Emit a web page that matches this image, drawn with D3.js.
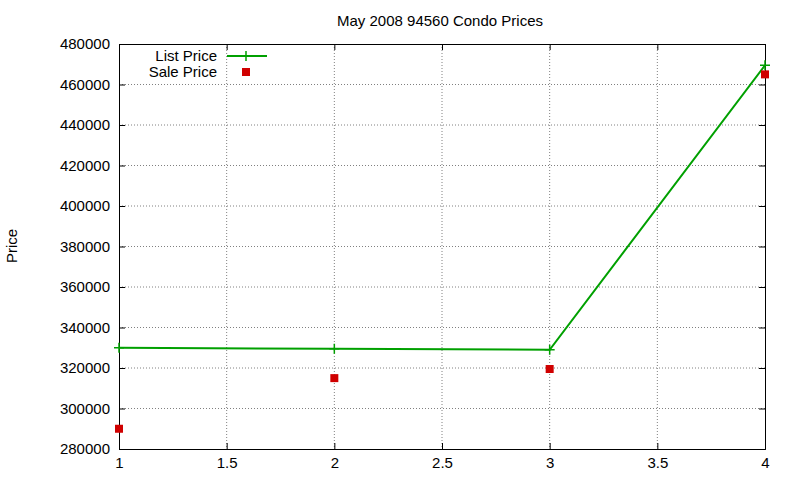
<!DOCTYPE html>
<html><head><meta charset="utf-8">
<script src="https://cdn.jsdelivr.net/npm/d3@7"></script>
<style>body{margin:0;background:#fff}text{font-family:"Liberation Sans",Arial,sans-serif}</style>
</head><body><svg id="c" width="800" height="480"></svg>
<script>
const xs = [1, 2, 3, 4];
const listPrice = [330000, 329500, 329000, 469500];
const salePrice = [290000, 315000, 319500, 465000];
const xTicks = [1, 1.5, 2, 2.5, 3, 3.5, 4];
const yTicks = d3.range(280000, 480001, 20000);

const svg = d3.select("#c");
const L = 119, R = 765, T = 44, B = 449;
const x = d3.scaleLinear().domain([1, 4]).range([L, R]);
const y = d3.scaleLinear().domain([280000, 480000]).range([B, T]);

const g = svg.append("g");
g.selectAll(".gx").data(xTicks.slice(1, -1)).enter().append("line")
  .attr("x1", d => x(d)).attr("x2", d => x(d)).attr("y1", T).attr("y2", B)
  .attr("stroke", "#808080").attr("stroke-dasharray", "1,2").attr("stroke-width", 1);
g.selectAll(".gy").data(yTicks.slice(1, -1)).enter().append("line")
  .attr("x1", L).attr("x2", R).attr("y1", d => y(d)).attr("y2", d => y(d))
  .attr("stroke", "#808080").attr("stroke-dasharray", "1,2").attr("stroke-width", 1);

const ax = svg.append("g").attr("transform", `translate(0,${B})`)
  .call(d3.axisBottom(x).tickValues(xTicks).tickSize(-6).tickPadding(6).tickFormat(d3.format("")));
const ax2 = svg.append("g").attr("transform", `translate(0,${T})`)
  .call(d3.axisTop(x).tickValues(xTicks).tickSize(-6).tickFormat(""));
const ay = svg.append("g").attr("transform", `translate(${L},0)`)
  .call(d3.axisLeft(y).tickValues(yTicks).tickSize(-6).tickPadding(9).tickFormat(d3.format("d")));
const ay2 = svg.append("g").attr("transform", `translate(${R},0)`)
  .call(d3.axisRight(y).tickValues(yTicks).tickSize(-6).tickFormat(""));
[ax, ax2, ay, ay2].forEach(a => {
  a.selectAll("path").attr("stroke", "#000");
  a.selectAll("line").attr("stroke", "#000");
  a.selectAll("text").attr("font-size", 15).attr("fill", "#000");
});
ax.selectAll("text").attr("dy", "0.85em");

svg.append("text").attr("x", 440).attr("y", 26).attr("text-anchor", "middle")
  .attr("font-size", 15).text("May 2008 94560 Condo Prices");
svg.append("text").attr("transform", "translate(17,246) rotate(-90)")
  .attr("text-anchor", "middle").attr("font-size", 15).text("Price");

const green = "#00a000", red = "#d00000";
const line = d3.line().x((d, i) => x(xs[i])).y(d => y(d));
svg.append("path").datum(listPrice).attr("d", line).attr("fill", "none")
  .attr("stroke", green).attr("stroke-width", 2);
function plus(px, py) {
  svg.append("path").attr("d", `M${px-5},${py}H${px+5}M${px},${py-5}V${py+5}`)
    .attr("stroke", green).attr("stroke-width", 1.5);
}
listPrice.forEach((d, i) => plus(x(xs[i]), y(d)));
svg.selectAll(".sale").data(salePrice).enter().append("rect")
  .attr("x", (d, i) => x(xs[i]) - 4).attr("y", d => y(d) - 4)
  .attr("width", 8).attr("height", 8).attr("fill", red);

svg.append("text").attr("x", 217).attr("y", 61).attr("text-anchor", "end").attr("font-size", 15).text("List Price");
svg.append("text").attr("x", 217).attr("y", 77).attr("text-anchor", "end").attr("font-size", 15).text("Sale Price");
svg.append("line").attr("x1", 227).attr("x2", 267).attr("y1", 56).attr("y2", 56).attr("stroke", green).attr("stroke-width", 2);
plus(246, 56);
svg.append("rect").attr("x", 242).attr("y", 68).attr("width", 8).attr("height", 8).attr("fill", red);
</script></body></html>
